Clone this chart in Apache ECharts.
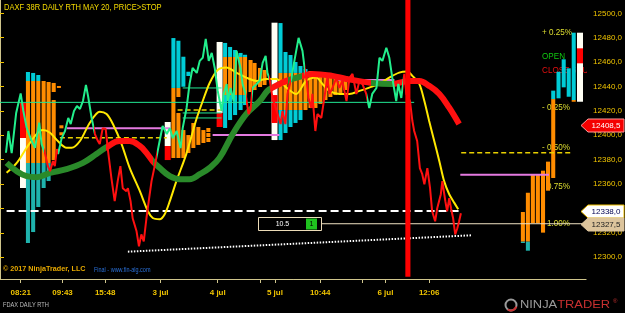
<!DOCTYPE html>
<html>
<head>
<meta charset="utf-8">
<script src="https://cdn.jsdelivr.net/npm/echarts@6/dist/echarts.min.js"></script>
<style>
html, body { margin: 0; padding: 0; background: #000; }
#chart { width: 625px; height: 313px; }
</style>
</head>
<body>
<div id="chart"></div>
<script>
// axis: x is bar number, y is price
var X_MAX = 195.7, Y_MIN = 12282.2, Y_MAX = 12510.9;
var xTickPos = [6.9, 20.9, 35.1, 53.6, 72.7, 86.9, 91.8, 106.9, 121.1, 128.7, 143.3];
var xTickText = ['08:21', '09:43', '15:48', '3 jul', '4 jul', '', '5 jul', '10:44', '', '6 jul', '12:06'];
var yTickPos = [12300, 12320, 12340, 12360, 12380, 12400, 12420, 12440, 12460, 12480, 12500];

// price line (green above / red below)
var priceLine = [[2.0,12385.7],[2.8,12403.5],[3.9,12385.4],[5.4,12418.3],[6.9,12434.3],[7.8,12419.9],[8.9,12406.2],[10.6,12395.3],[11.7,12389.8],[13.1,12410.3],[13.9,12392.8],[15.0,12385.4],[16.0,12374.7],[16.7,12370.6],[17.7,12378.8],[18.3,12374.7],[19.0,12388.7],[19.4,12384.6],[20.6,12397.7],[21.7,12403.5],[22.8,12414.2],[23.6,12409.2],[24.7,12419.9],[25.7,12424.0],[26.7,12421.6],[27.7,12428.1],[28.7,12441.3],[29.4,12432.2],[30.6,12414.2],[31.7,12401.0],[32.7,12395.3],[33.3,12392.8],[34.3,12405.9],[35.3,12405.1],[36.0,12388.7],[37.2,12364.9],[38.3,12346.0],[39.3,12362.4],[40.2,12374.7],[41.0,12356.6],[42.2,12354.2],[42.7,12356.6],[43.6,12346.0],[44.3,12332.0],[45.6,12321.3],[46.4,12309.0],[47.2,12318.8],[48.0,12313.1],[48.9,12332.0],[49.8,12348.4],[50.6,12362.4],[51.3,12370.6],[52.0,12378.8],[53.3,12395.3],[54.3,12407.6],[55.7,12401.0],[56.7,12405.9],[57.7,12397.7],[59.0,12403.5],[60.3,12389.5],[61.0,12405.9],[62.3,12422.4],[63.3,12442.1],[64.3,12455.2],[65.7,12451.1],[66.7,12461.0],[67.7,12463.5],[68.7,12479.1],[69.7,12461.0],[70.7,12467.6],[71.7,12455.2],[72.7,12436.4],[74.0,12419.9],[74.7,12433.9],[75.7,12442.1],[76.0,12428.1],[77.0,12438.8],[78.0,12428.1],[79.0,12469.2],[80.3,12455.2],[81.0,12442.1],[82.0,12433.9],[83.0,12417.4],[83.7,12421.6],[84.3,12438.8],[85.7,12442.1],[86.7,12444.6],[87.7,12459.4],[88.7,12465.1],[89.3,12451.1],[90.0,12446.2],[91.0,12430.6],[92.7,12417.4],[93.7,12409.2],[94.3,12419.9],[95.3,12409.2],[96.0,12433.9],[97.3,12447.0],[98.3,12461.0],[99.7,12479.9],[101.0,12469.2],[101.7,12455.2],[102.3,12447.0],[103.0,12430.6],[104.0,12422.4],[104.3,12433.9],[105.3,12403.5],[106.0,12417.4],[107.3,12414.2],[108.3,12430.6],[109.3,12447.0],[110.0,12433.9],[111.0,12438.8],[112.3,12447.0],[113.3,12438.8],[114.3,12444.6],[115.7,12428.1],[116.7,12447.0],[117.7,12450.3],[119.0,12433.9],[120.0,12444.6],[121.0,12442.1],[122.3,12433.9],[123.3,12422.4],[124.3,12433.9],[125.7,12438.8],[126.7,12463.5],[127.7,12461.0],[129.0,12471.7],[130.0,12463.5],[131.0,12447.0],[132.3,12428.1],[133.0,12442.1],[134.0,12430.6],[135.0,12450.3],[135.7,12433.9],[136.9,12428.1],[137.7,12411.7],[138.3,12403.5],[139.3,12395.3],[140.2,12373.1],[141.0,12368.1],[141.7,12359.9],[142.7,12373.1],[143.6,12356.6],[144.3,12337.7],[145.3,12329.5],[146.0,12340.2],[147.2,12351.7],[147.7,12362.4],[148.7,12346.0],[149.3,12337.7],[150.0,12348.4],[150.6,12340.2],[151.3,12332.0],[152.0,12318.8],[152.7,12323.8],[153.3,12329.5],[153.9,12336.1]];
var priceRed = [[14.7,19.2],[31.4,52.3],[82,84.3],[89.7,97.3],[102,122.7],[134.5,160]];

var yellowLine = [[2.2,12369.2],[5.6,12377.4],[8.9,12389.8],[12.2,12401.0],[14.3,12404.3],[16.7,12402.1],[19.3,12395.3],[22.2,12389.8],[23.9,12389.8],[26.7,12395.3],[30.0,12410.3],[33.3,12419.3],[35.6,12417.4],[37.7,12409.2],[40.6,12392.8],[43.3,12373.3],[46.7,12354.2],[49.4,12337.7],[51.0,12332.2],[53.3,12331.2],[55.0,12335.3],[56.7,12346.0],[58.9,12362.4],[62.2,12384.6],[65.6,12413.3],[67.7,12428.1],[70.0,12442.9],[72.7,12453.6],[75.6,12455.5],[78.9,12451.4],[82.2,12447.3],[85.6,12444.6],[88.9,12446.2],[92.2,12446.2],[95.6,12439.1],[98.9,12433.9],[102.2,12444.6],[105.6,12447.3],[107.7,12442.1],[110.0,12436.4],[113.3,12433.9],[116.7,12433.9],[120.0,12436.4],[123.3,12439.1],[126.7,12442.1],[130.0,12447.3],[133.3,12451.4],[136.0,12452.2],[137.7,12448.7],[140.0,12442.1],[141.7,12428.1],[143.3,12411.7],[145.0,12395.3],[146.7,12378.8],[148.3,12362.4],[150.0,12351.7],[151.7,12344.6],[153.0,12339.4]];

var trendLine = [[2.2,12377.4],[5.6,12370.6],[8.9,12366.5],[12.2,12365.7],[16.7,12369.2],[22.2,12372.3],[27.7,12377.4],[32.2,12384.6],[35.3,12389.8],[40.0,12395.3],[43.3,12395.3],[46.7,12391.2],[48.9,12385.6],[51.0,12378.8],[53.3,12373.3],[56.7,12366.5],[60.0,12364.0],[63.3,12364.0],[66.7,12368.1],[70.0,12373.3],[73.3,12381.5],[77.7,12401.0],[82.2,12417.4],[86.7,12428.1],[89.3,12436.4],[91.0,12439.1],[95.6,12444.6],[100.0,12447.9],[104.3,12450.3],[111.0,12448.7],[115.6,12446.2],[124.3,12442.9],[131.0,12442.1],[136.7,12444.6],[140.0,12444.6],[143.3,12440.5],[146.7,12433.9],[150.0,12422.6],[153.3,12409.2]];
var trendRed = [[35.3,51],[90.7,96],[100.7,124],[131.7,160]];

// profile columns [bar, low, high]
var orangeBars = [[9.33,12377.3,12444.5],[11.07,12377.3,12444.5],[12.78,12377.3,12444.5],[14.57,12377.3,12444.5],[16.23,12377.3,12443.7],[17.93,12435.5,12442.9],[17.93,12379.7,12428.9],[19.67,12438.8,12440.4],[20.5,12405.7,12408.2],[20.5,12400,12402.5],
  [57.9,12381.4,12438.8],[59.57,12431.4,12438.8],[59.57,12381.4,12418.3],[61.23,12381.4,12404.3],[62.9,12385.5,12400.2],[64.57,12389.6,12410.1],[66.23,12392.1,12406.8],[67.93,12393.7,12404.3],[69.57,12402.7,12406],[69.57,12398.6,12401.9],[69.57,12394.5,12397.8],
  [75.17,12433,12464.2],[76.83,12433,12464.2],[78.5,12433,12464.2],[80.33,12433,12464.2],[81.83,12433,12464.2],[83.67,12435.5,12461.7],[85,12437.1,12459.3],[86.83,12439.6,12455.2],[88.33,12441.2,12453.5],
  [93.67,12420.7,12451.1],[95.33,12420.7,12451.1],[97,12420.7,12451.1],[98.67,12420.7,12451.1],[100.33,12420.7,12451.1],[102,12420.7,12451.1],[103.67,12422.4,12452.7],[105.33,12422.4,12451.9],[107,12425.7,12451.1],[108.67,12428.9,12451.1],[110.33,12431.4,12451.1],[112,12433,12450.2],[113.67,12434.7,12449.4],[115.33,12437.1,12448.6],
  [174.6,12312.8,12337.1],[176.27,12312.8,12352.9],[177.93,12327.9,12367.5],[179.6,12327.9,12367.5],[181.33,12320.2,12371],[183,12354.6,12378.4],[184.73,12365,12429.7],[191.57,12427.5,12428.9]];
var cyanBars = [[9.33,12444.5,12451.9],[11.07,12444.5,12451.1],[12.78,12444.5,12449.4],
  [57.9,12438.8,12479.7],[59.57,12438.8,12477.5],[61.23,12439.8,12464.4],[62.9,12448.6,12452.1],
  [75.17,12464.2,12475.7],[76.83,12464.2,12472.4],[78.5,12464.2,12469.9],[80.33,12464.2,12467.5],[81.83,12464.2,12466],[75.17,12406,12433],[76.83,12412.5,12433],[78.5,12416.6,12433],[80.33,12420.7,12433],[81.83,12424.8,12433],
  [93.67,12451.1,12492],[95.33,12451.1,12468.3],[97,12451.1,12465.8],[98.67,12451.1,12460.1],[100.33,12451.1,12456.8],[102,12451.1,12454.3],[93.67,12396.1,12420.7],[95.33,12401.9,12420.7],[97,12406.8,12420.7],[98.67,12410.1,12420.7],[100.33,12412.5,12420.7],
  [184.73,12429.7,12436.6],[186.5,12430.3,12452.1],[188.23,12439.3,12462.3],[189.9,12431.6,12454.9],[191.57,12428.9,12484.1]];
var tealBars = [[9.33,12311.7,12377.3],[11.07,12320.7,12377.3],[12.78,12341.2,12377.3],[14.57,12356.8,12377.3],[16.23,12362.5,12377.3],[174.6,12311.7,12312.8],[176.27,12305.4,12312.8]];
var whiteBars = [[7.67,12356.8,12397.8],[56,12391.2,12410.9],[73.33,12418.3,12476.5],[91.67,12396.1,12492.3],[193.67,12427.5,12484.1]];
var redBlocks = [[7.67,12397.8,12426.5],[56,12379.7,12391.2],[73.33,12406.8,12418.3],[91.67,12410.1,12433],[193.67,12459,12471.3]];
var sessionBar = [[136.2,12284.1,12510.9]];

// horizontal levels [fromBar, toBar, price]
var mintLevels = [[0,138.3,12427.0],[61,74,12438.8],[61,74,12418.3],[61,74,12414.2]];
var goldLevels = [[20,55.7,12398.0],[59.3,74,12420.7],[154,190.7,12385.7]];
var violetLevels = [[22.3,56.7,12405.7],[71,93.3,12400.2],[113,131.7,12445.3],[153.7,183.3,12367.7]];
var stopLevel = [[2.2,154,12338.0]];
var entryLevel = [[107.3,195.7,12327.5]];
var supportLine = [[42.7,12304.6],[157.3,12318.0]];

var pctLevels = [12483.9, 12464.2, 12452.7, 12422.4, 12389.6, 12358.4, 12327.3];
var pctTexts = ['+ 0.25%', 'OPEN', 'CLOSE 5 JUL', '- 0.25%', '- 0.50%', '- 0.75%', '- 1.00%'];
var tagValues = [12408.5, 12338.0, 12327.5];
var boxLevel = [[86.3, 107.3, 12327.5]];
var boxTexts = ['10.5', '1'];

var FONT = '"Liberation Sans", Arial, sans-serif';
var pctColors = ['#dede30', '#10c810', '#e81010', '#dede30', '#dede30', '#dede30', '#dede30'];
var tagFill = ['#f40000', '#ffffff', '#dcc49c'];
var tagStroke = ['#ff9a9a', '#f0c000', '#dcc49c'];
var tagInk = ['#ffffff', '#000050', '#202020'];

function fmtPrice(v) { return v.toFixed(1).replace('.', ','); }

function rectSeries(data, color, w, z) {
  return {
    type: 'custom', silent: true, z: z, encode: { x: 0, y: [1, 2] },
    renderItem: function (params, api) {
      var a = api.coord([api.value(0) - w / 2, api.value(2)]);
      var b = api.coord([api.value(0) + w / 2, api.value(1)]);
      return { type: 'rect', shape: { x: a[0], y: a[1], width: b[0] - a[0], height: b[1] - a[1] }, style: { fill: color } };
    },
    data: data
  };
}
function levelSeries(data, color, width, dash, z) {
  return {
    type: 'custom', silent: true, z: z, encode: { x: [0, 1], y: 2 },
    renderItem: function (params, api) {
      var a = api.coord([api.value(0), api.value(2)]);
      var b = api.coord([api.value(1), api.value(2)]);
      return { type: 'line', shape: { x1: a[0], y1: a[1], x2: b[0], y2: b[1] }, style: { stroke: color, lineWidth: width, lineDash: dash } };
    },
    data: data
  };
}

var series = [];
series.push({
  type: 'custom', silent: true, z: 1, clip: true, encode: { x: 0, y: 1 },
  data: pctLevels.map(function (v) { return [181, v]; }),
  renderItem: function (params, api) {
    var p = api.coord([api.value(0), api.value(1)]);
    return { type: 'text', x: p[0], y: p[1], scaleX: 0.9,
      style: { text: pctTexts[params.dataIndex], fill: pctColors[params.dataIndex], font: '9px ' + FONT, align: 'left', verticalAlign: 'middle' } };
  }
});
series.push(rectSeries(orangeBars, '#ff8c00', 1.35, 2));
series.push(rectSeries(cyanBars, '#00ccd6', 1.35, 2));
series.push(rectSeries(tealBars, '#1fb3ad', 1.35, 2));
series.push(rectSeries(whiteBars, '#fffff4', 2, 2));
series.push(rectSeries(redBlocks, '#ff0000', 2, 2));
series.push(levelSeries(mintLevels, '#22e894', 1, null, 3));
series.push(levelSeries(goldLevels, '#e8d000', 1.5, [5, 3], 3));
series.push(levelSeries(violetLevels, '#e47ae0', 2, null, 3));
series.push(levelSeries(stopLevel, '#ffffff', 2, [8, 4], 3));
series.push(levelSeries(entryLevel, '#f0e2c2', 1, null, 3));
series.push({ type: 'line', data: supportLine, symbol: 'none', silent: true, z: 3,
  lineStyle: { color: '#ffffff', width: 2, type: [1.5, 1.5] } });
series.push({ type: 'line', data: yellowLine, symbol: 'none', smooth: 0.3, silent: true, z: 4,
  lineStyle: { color: '#ffe800', width: 2 } });
var trendIdx = series.length;
series.push({ type: 'line', data: trendLine, symbol: 'none', smooth: 0.4, silent: true, z: 5,
  lineStyle: { width: 6 } });
var priceIdx = series.length;
series.push({ type: 'line', data: priceLine, symbol: 'none', silent: true, z: 6,
  lineStyle: { width: 2 } });
series.push(rectSeries(sessionBar, '#ff0000', 1.7, 7));
series.push({
  type: 'custom', silent: true, z: 8, clip: false, encode: { x: [0, 1], y: 2 },
  data: boxLevel,
  renderItem: function (params, api) {
    var a = api.coord([api.value(0), api.value(2)]);
    var b = api.coord([api.value(1), api.value(2)]);
    var y = Math.round(a[1]);
    return { type: 'group', children: [
      { type: 'rect', shape: { x: Math.round(a[0]) + 0.5, y: y - 6.5, width: Math.round(b[0] - a[0]), height: 13 }, style: { fill: '#000', stroke: '#ecdcb8', lineWidth: 1 } },
      { type: 'text', x: a[0] + 24, y: y, style: { text: boxTexts[0], fill: '#ffffff', font: '7px ' + FONT, align: 'center', verticalAlign: 'middle' } },
      { type: 'rect', shape: { x: Math.round(b[0]) - 15, y: y - 5.5, width: 11, height: 11 }, style: { fill: '#1fc21f' } },
      { type: 'text', x: Math.round(b[0]) - 9.5, y: y, style: { text: boxTexts[1], fill: '#000', font: '7px ' + FONT, align: 'center', verticalAlign: 'middle' } }
    ] };
  }
});
series.push({
  type: 'custom', silent: true, z: 9, clip: false, encode: { x: 0, y: 1 },
  data: tagValues.map(function (v) { return [X_MAX, v]; }),
  renderItem: function (params, api) {
    var p = api.coord([api.value(0), api.value(1)]);
    var i = params.dataIndex, x = Math.round(p[0]), y = Math.round(p[1]) + 0.5;
    return { type: 'group', children: [
      { type: 'polygon', shape: { points: [[x - 5, y], [x + 2, y - 6.5], [x + 38, y - 6.5], [x + 38, y + 6.5], [x + 2, y + 6.5]] },
        style: { fill: tagFill[i], stroke: tagStroke[i], lineWidth: 1 } },
      { type: 'text', x: x + 20, y: y, style: { text: fmtPrice(api.value(1)), fill: tagInk[i], font: '8px ' + FONT, align: 'center', verticalAlign: 'middle' } }
    ] };
  }
});

function redPieces(ranges) {
  return ranges.map(function (r) { return { gte: r[0], lt: r[1], color: '#ff1010' }; });
}

var chart = echarts.init(document.getElementById('chart'));
chart.setOption({
  backgroundColor: '#000000',
  animation: false,
  grid: { left: 0, right: 38, top: 0, bottom: 34 },
  xAxis: {
    type: 'value', min: 0, max: X_MAX,
    axisLine: { show: true, onZero: false, lineStyle: { color: '#cfc58c', width: 1 } },
    axisTick: { show: true, customValues: xTickPos, length: 4, lineStyle: { color: '#cfc58c' } },
    axisLabel: {
      customValues: xTickPos.filter(function (v, i) { return xTickText[i] !== ''; }),
      formatter: function (v) {
        for (var i = 0; i < xTickPos.length; i++) { if (Math.abs(xTickPos[i] - v) < 0.01) return xTickText[i]; }
        return '';
      },
      color: '#f0c400', fontSize: 8, fontWeight: 'bold', margin: 10, fontFamily: FONT
    },
    splitLine: { show: false }
  },
  yAxis: {
    type: 'value', position: 'right', min: Y_MIN, max: Y_MAX,
    axisLine: { show: true, lineStyle: { color: '#cfc58c', width: 1 } },
    axisTick: { show: true, customValues: yTickPos, length: 4, lineStyle: { color: '#f0c400' } },
    axisLabel: { customValues: yTickPos, formatter: fmtPrice, color: '#f0c400', fontSize: 8, margin: 7, fontFamily: FONT },
    splitLine: { show: false }
  },
  visualMap: [
    { type: 'piecewise', show: false, dimension: 0, seriesIndex: priceIdx, pieces: redPieces(priceRed), outOfRange: { color: '#22ee8c' } },
    { type: 'piecewise', show: false, dimension: 0, seriesIndex: trendIdx, pieces: redPieces(trendRed), outOfRange: { color: '#2a8a2a' } }
  ],
  series: series,
  graphic: [
    { type: 'text', x: 4, y: 8, scaleX: 0.84, z: 100, silent: true,
      style: { text: 'DAXF 38R DAILY RTH MAY 20, PRICE>STOP', fill: '#f6dc00', font: '9px ' + FONT, align: 'left', verticalAlign: 'middle' } },
    { type: 'text', x: 3, y: 269, scaleX: 0.9, z: 100, silent: true,
      style: { text: '© 2017 NinjaTrader, LLC', fill: '#e8aa00', font: 'bold 8px ' + FONT, align: 'left', verticalAlign: 'middle' } },
    { type: 'text', x: 94, y: 270.5, scaleX: 0.78, z: 100, silent: true,
      style: { text: 'Final - www.fin-alg.com', fill: '#2a70d8', font: '7px ' + FONT, align: 'left', verticalAlign: 'middle' } },
    { type: 'text', x: 3, y: 305, scaleX: 0.81, z: 100, silent: true,
      style: { text: 'FDAX DAILY RTH', fill: '#bdbdbd', font: '7px ' + FONT, align: 'left', verticalAlign: 'middle' } },
    { type: 'circle', shape: { cx: 511, cy: 305, r: 5.5 }, z: 100, silent: true,
      style: { fill: 'none', stroke: '#9a9a9a', lineWidth: 2 } },
    { type: 'arc', shape: { cx: 511, cy: 305, r: 5.5, startAngle: 0.3, endAngle: 2.2 }, z: 101, silent: true,
      style: { fill: 'none', stroke: '#c83030', lineWidth: 2 } },
    { type: 'text', x: 520, y: 305, scaleX: 1.17, z: 100, silent: true,
      style: { text: '{g|NINJA}{r|TRADER}', align: 'left', verticalAlign: 'middle',
        rich: { g: { fill: '#9a9a9a', font: '11px ' + FONT }, r: { fill: '#c83030', font: '11px ' + FONT } } } },
    { type: 'text', x: 613, y: 301, z: 100, silent: true,
      style: { text: '®', fill: '#c83030', font: '6px ' + FONT, align: 'left', verticalAlign: 'middle' } }
  ]
});
</script>
</body>
</html>
